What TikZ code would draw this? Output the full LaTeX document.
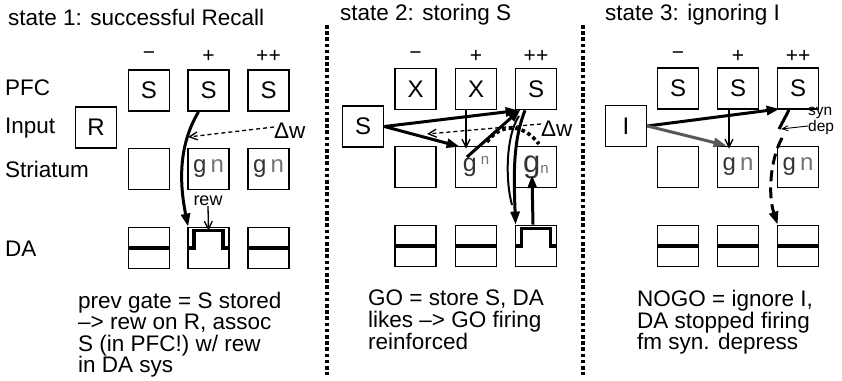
\documentclass[tikz,border=0pt]{standalone}
\usepackage{fontspec}
\setmainfont{Liberation Sans}
\usetikzlibrary{arrows.meta}

\colorlet{gdark}{black!80}
\colorlet{nlight}{black!55}
\newcommand{\gnpair}{{\color{gdark}g}\,{\color{nlight}n}}

\begin{document}
\begin{tikzpicture}[
   x=1pt, y=-1pt,
   every node/.append style={font=\fontsize{22.5}{21.6}\selectfont},
   unit/.style={draw, line width=1.8pt, minimum size=41pt, inner sep=0pt, font=\fontsize{24}{24}\selectfont},
   lab/.style={anchor=west, inner sep=0pt},
   colname/.style={font=\fontsize{21}{21}\selectfont},
   note/.style={anchor=north west, align=left, inner sep=0pt, font=\fontsize{22.5}{21.6}\selectfont},
   small/.style={font=\fontsize{18}{18}\selectfont, inner sep=0pt},
   tiny/.style={font=\fontsize{15.5}{14}\selectfont, align=left, inner sep=0pt},
   strong/.style={line width=3pt, -{Triangle[length=13pt,width=9pt]}},
   weak/.style={line width=1.3pt, -{Straight Barb[length=8pt,width=8pt]}},
   level/.style={line width=3.4pt},
   divider/.style={line width=3.6pt, dash pattern=on 3.6pt off 2.6pt}
]
\useasboundingbox (0,0) rectangle (842,380);

% row names
\node[lab] (lpfc) at (5,88) {PFC};
\node[lab] (linp) at (5,128) {Input};
\node[lab] (lstr) at (5,169) {Striatum};
\node[lab] (lda)  at (5,249) {DA};

% dividers
\draw[divider] (327,25) -- (327,375);
\draw[divider] (583,25) -- (583,375);

% state 1
\node[lab] (title1) at (8,17) {state 1: successful Recall};
\node[colname] (h1a) at (149,56) {−};
\node[colname] (h1b) at (208.5,56) {+};
\node[colname] (h1c) at (268.5,56) {++};
\node[unit] (pfc1a) at (149,90.5) {S};
\node[unit] (pfc1b) at (208.5,90.5) {S};
\node[unit] (pfc1c) at (268.5,90.5) {S};
\node[unit] (inp1) at (96,127.5) {R};
\node[unit] (str1a) at (149,169) {};
\node[unit] (str1b) at (208.5,169) {\gnpair};
\node[unit] (str1c) at (268.5,169) {\gnpair};
\node[unit] (da1a) at (149,248) {};
\node[unit] (da1b) at (208.5,248) {};
\node[unit] (da1c) at (268.5,248) {};
\draw[level] (da1a.west) -- (da1a.east);
\draw[level] (da1b.west) -- ++(7,0) |- ([yshift=-4pt]da1b.north) -| ([xshift=-7pt]da1b.east) -- (da1b.east);
\draw[level] (da1c.west) -- (da1c.east);
\draw[strong] ([xshift=-10pt]pfc1b.south) .. controls +(-18,30) and +(-10,-50) .. ([xshift=1pt]da1b.north west);
\node[lab] (dw1) at (274,131) {Δw};
\coordinate (hit1) at (188,137);
\draw[weak, dash pattern=on 4pt off 3pt] ([yshift=4pt]dw1.west) -- (hit1);
\node[small] (rew1) at (208,201) {rew};
\draw[weak] (rew1.south) -- ([yshift=-4pt]da1b.north);
\node[note] (note1) at (78,291.5) {prev gate = S stored\\–> rew on R, assoc\\S (in PFC!) w/ rew\\in DA sys};

% state 2
\node[lab] (title2) at (340,15) {state 2: storing S};
\node[colname] (h2a) at (415.5,56) {−};
\node[colname] (h2b) at (476,56) {+};
\node[colname] (h2c) at (536,56) {++};
\node[unit] (pfc2a) at (415.5,89) {X};
\node[unit] (pfc2b) at (476,89) {X};
\node[unit] (pfc2c) at (536,89) {S};
\node[unit] (inp2) at (363,126.5) {S};
\node[unit] (str2a) at (415.5,167) {};
\node[unit] (str2b) at (476,167) {{\color{gdark}\fontsize{25}{25}\selectfont g}\,\raisebox{7pt}{\color{nlight}\fontsize{15}{15}\selectfont n}};
\node[unit] (str2c) at (536,167) {{\color{gdark}\fontsize{31}{31}\selectfont g}\raisebox{-1pt}{\color{nlight}\fontsize{15}{15}\selectfont n}};
\node[unit] (da2a) at (415.5,246) {};
\node[unit] (da2b) at (476,246) {};
\node[unit] (da2c) at (536,246) {};
\draw[level] (da2a.west) -- (da2a.east);
\draw[level] (da2b.west) -- (da2b.east);
\draw[level] (da2c.west) -- ++(7,0) |- ([yshift=-4pt]da2c.north) -| ([xshift=-7pt]da2c.east) -- (da2c.east);
\node[lab] (dw2) at (541,129) {Δw};
\coordinate (hit2) at (427,134);
\draw[weak, dash pattern=on 4pt off 3pt] ([yshift=5pt]dw2.west) -- (hit2);
\coordinate (dot2a) at (487,142);
\coordinate (dot2b) at (539,144);
\draw[line width=3.6pt, dash pattern=on 3.6pt off 3pt] (dot2a) .. controls (500,124) and (522,122) .. (dot2b);
\draw[strong] (inp2.east) -- ([xshift=4pt]pfc2c.south west);
\draw[strong] (inp2.east) -- ([xshift=5pt,yshift=-1pt]str2b.north west);
\draw[weak] ([xshift=-10pt]pfc2b.south) -- ([xshift=-10pt,yshift=-3pt]str2b.north);
\draw[strong] ([xshift=-9pt,yshift=10pt]str2b.center) -- ([xshift=6pt,yshift=1pt]pfc2c.south west);
\draw[strong] ([xshift=-11pt]pfc2c.south) .. controls +(-12,30) and +(-2,-50) .. ([xshift=1pt]da2c.north west);
\coordinate (arc2a) at (519,116);
\coordinate (arc2b) at (512,205);
\draw[line width=2pt] (arc2a) .. controls (506,135) and (505,180) .. (arc2b);
\draw[strong] ([xshift=-3pt]da2c.north) -- ([xshift=-4pt,yshift=-8pt]str2c.center);
\node[note] (note2) at (368,290) {GO = store S, DA\\likes –> GO firing\\reinforced};

% state 3
\node[lab] (title3) at (605,15) {state 3: ignoring I};
\node[colname] (h3a) at (678,56) {−};
\node[colname] (h3b) at (738,56) {+};
\node[colname] (h3c) at (798,56) {++};
\node[unit] (pfc3a) at (678,88.5) {S};
\node[unit] (pfc3b) at (738,88.5) {S};
\node[unit] (pfc3c) at (798,88.5) {S};
\node[unit] (inp3) at (626,126) {I};
\node[unit] (str3a) at (678,167) {};
\node[unit] (str3b) at (738,167) {\gnpair};
\node[unit] (str3c) at (798,167) {\gnpair};
\node[unit] (da3a) at (678,246) {};
\node[unit] (da3b) at (738,246) {};
\node[unit] (da3c) at (798,246) {};
\draw[level] (da3a.west) -- (da3a.east);
\draw[level] (da3b.west) -- (da3b.east);
\draw[level] (da3c.west) -- (da3c.east);
\draw[strong] (inp3.east) -- ([xshift=3pt,yshift=1pt]pfc3c.south west);
\draw[strong, black!65] (inp3.east) -- ([xshift=10pt]str3b.north west);
\draw[weak] ([xshift=-9pt]pfc3b.south) -- ([xshift=-9pt,yshift=-3pt]str3b.north);
\coordinate (dep3) at (779,129);
\draw[line width=3pt] ([xshift=-9pt]pfc3c.south) -- (dep3);
\node[tiny, anchor=west] (syn3) at (808,121) {syn\\dep};
\draw[line width=0.9pt, -{Straight Barb[length=6pt,width=5pt]}] ([yshift=-5pt]syn3.west) -- ([xshift=2pt]dep3);
\coordinate (fall3) at (782,138);
\draw[strong, dash pattern=on 11pt off 6pt] (fall3) .. controls (770,160) and (768,195) .. ([xshift=1pt]da3c.north west);
\node[note] (note3) at (637,290) {NOGO = ignore I,\\DA stopped firing\\fm syn. depress};

\end{tikzpicture}
\end{document}
